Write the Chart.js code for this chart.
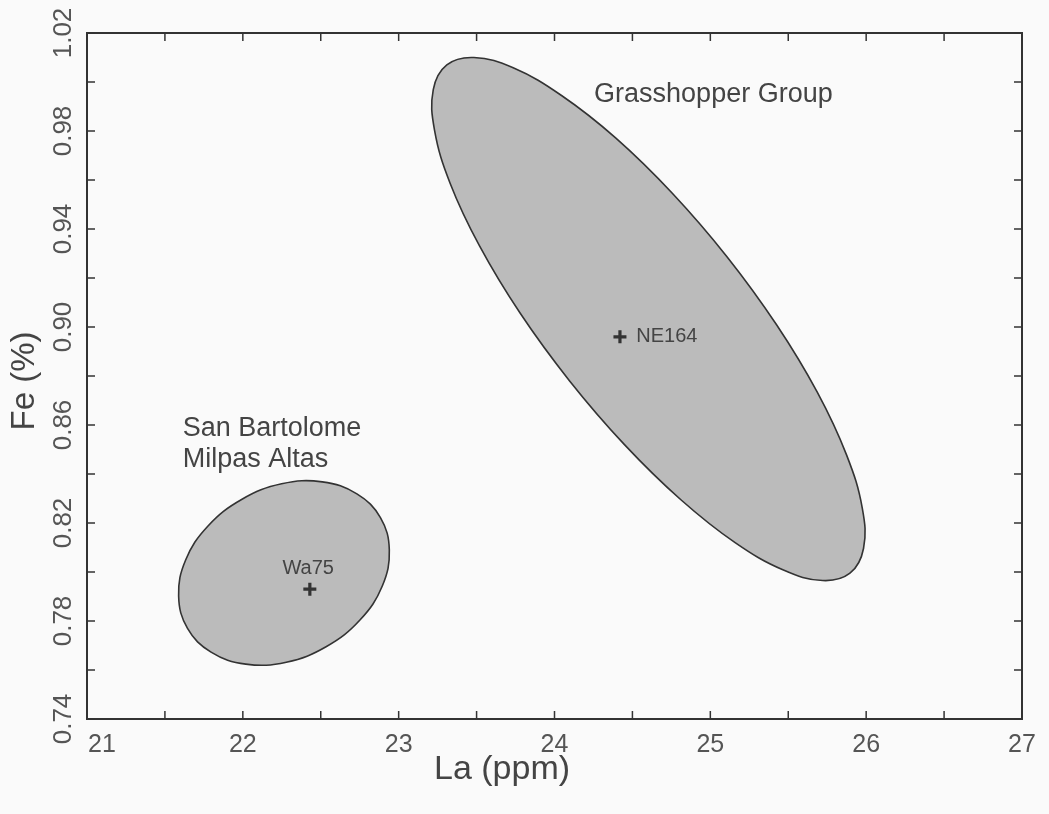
<!DOCTYPE html>
<html>
<head>
<meta charset="utf-8">
<script src="https://cdn.jsdelivr.net/npm/chart.js@4.4.0/dist/chart.umd.min.js"></script>
<style>
    html, body { margin: 0; padding: 0; background: #fafafa; }
</style>
</head>
<body>
<canvas id="chart" width="1049" height="814"></canvas>
<script>
// Outline of the Grasshopper Group ellipse (La ppm / Fe %).
const grassLa = [25.108, 25.425, 25.687, 25.874, 25.975, 25.983, 25.896, 25.721, 25.469, 25.159,
    24.811, 24.449, 24.097, 23.779, 23.518, 23.330, 23.230, 23.222, 23.309, 23.483,
    23.735, 24.045, 24.394, 24.756];
const grassFe = [0.9286, 0.9009, 0.8733, 0.8478, 0.8261, 0.8096, 0.7995, 0.7965, 0.8008, 0.8120,
    0.8295, 0.8520, 0.8780, 0.9057, 0.9332, 0.9587, 0.9804, 0.9969, 1.0070, 1.0100,
    1.0058, 0.9945, 0.9771, 0.9546];

// Outline of the San Bartolome Milpas Altas ellipse.
const sanLa = [22.883, 22.940, 22.895, 22.753, 22.537, 22.279, 22.019, 21.796, 21.645, 21.588,
    21.633, 21.775, 21.992, 22.249, 22.510, 22.732];
const sanFe = [0.8222, 0.8090, 0.7943, 0.7805, 0.7696, 0.7632, 0.7624, 0.7673, 0.7770, 0.7902,
    0.8049, 0.8187, 0.8296, 0.8360, 0.8368, 0.8319];

// The two reference samples.
const sampleNames = ["NE164", "Wa75"];
const sampleLa = [24.42, 22.43];
const sampleFe = [0.896, 0.793];

// Axis ticks.
const xTicks = [21, 22, 23, 24, 25, 26, 27];
const xMinor = [21.5, 22.5, 23.5, 24.5, 25.5, 26.5];
const yTicks = [0.74, 0.78, 0.82, 0.86, 0.90, 0.94, 0.98, 1.02];
const yMinor = [0.76, 0.80, 0.84, 0.88, 0.92, 0.96, 1.00];

// Group names and sample labels, anchored in data units.
const notes = [
    { text: "Grasshopper Group", la: 24.254, fe: 0.9947, size: 27, align: "left" },
    { text: "San Bartolome", la: 21.614, fe: 0.8584, size: 27, align: "left" },
    { text: "Milpas Altas", la: 21.614, fe: 0.8457, size: 27, align: "left" },
    { text: sampleNames[1], la: 22.419, fe: 0.8016, size: 20, align: "center" },
    { text: sampleNames[0], la: 24.525, fe: 0.8963, size: 20, align: "left" },
];

const FONT = '"Liberation Sans", Arial, sans-serif';

const toPoints = (xs, ys) => xs.map((v, i) => ({ x: v, y: ys[i] }));

const ellipseStyle = {
    closed: true,
    showLine: true,
    fill: "shape",
    backgroundColor: "#bbbbbb",
    borderColor: "#333",
    borderWidth: 1.6,
    tension: 0.4,
    pointRadius: 0,
    order: 1,
};

// Join the ellipse outlines into smooth closed loops, the way radar lines are.
const loopPlugin = {
    id: "loop",
    afterDatasetsUpdate(chart) {
        chart.data.datasets.forEach((ds, i) => {
            if (!ds.closed) return;
            const line = chart.getDatasetMeta(i).dataset;
            line._loop = true;
            line._fullLoop = true;
            line._pointsUpdated = false;
            delete line._segments;
            delete line._path;
        });
    },
};

const framePlugin = {
    id: "frame",
    beforeDraw(chart) {
        const ctx = chart.ctx;
        ctx.save();
        ctx.fillStyle = "#fafafa";
        ctx.fillRect(0, 0, chart.width, chart.height);
        ctx.restore();
    },
    afterDraw(chart) {
        const { ctx, chartArea: a, scales: { x, y } } = chart;
        ctx.save();

        // frame
        ctx.strokeStyle = "#333";
        ctx.lineWidth = 2;
        ctx.strokeRect(a.left, a.top, a.right - a.left, a.bottom - a.top);

        // inward ticks on all four sides
        ctx.lineWidth = 1.5;
        ctx.beginPath();
        xTicks.concat(xMinor).forEach((v) => {
            const px = x.getPixelForValue(v);
            ctx.moveTo(px, a.bottom);
            ctx.lineTo(px, a.bottom - 8);
            ctx.moveTo(px, a.top);
            ctx.lineTo(px, a.top + 8);
        });
        yTicks.concat(yMinor).forEach((v) => {
            const py = y.getPixelForValue(v);
            ctx.moveTo(a.left, py);
            ctx.lineTo(a.left + 8, py);
            ctx.moveTo(a.right, py);
            ctx.lineTo(a.right - 8, py);
        });
        ctx.stroke();

        // tick labels
        ctx.fillStyle = "#555";
        ctx.font = "25px " + FONT;
        ctx.textBaseline = "middle";
        xTicks.forEach((v, i) => {
            ctx.textAlign = i === 0 ? "left" : "center";
            ctx.fillText(String(v), x.getPixelForValue(v) + (i === 0 ? 1 : 0), a.bottom + 26);
        });
        ctx.font = "26px " + FONT;
        yTicks.forEach((v) => {
            ctx.save();
            ctx.translate(a.left - 23, y.getPixelForValue(v));
            ctx.rotate(-Math.PI / 2);
            ctx.textAlign = "center";
            ctx.fillText(v.toFixed(2), 0, 0);
            ctx.restore();
        });

        // axis titles
        ctx.fillStyle = "#444";
        ctx.font = "34px " + FONT;
        ctx.textAlign = "center";
        ctx.fillText("La (ppm)", 502, 770);
        ctx.font = "33px " + FONT;
        ctx.save();
        ctx.translate(25, 381);
        ctx.rotate(-Math.PI / 2);
        ctx.fillText("Fe (%)", 0, 0);
        ctx.restore();

        // group and sample labels
        notes.forEach((n) => {
            ctx.font = n.size + "px " + FONT;
            ctx.textAlign = n.align;
            ctx.fillText(n.text, x.getPixelForValue(n.la), y.getPixelForValue(n.fe));
        });

        ctx.restore();
    },
};

new Chart(document.getElementById("chart"), {
    type: "scatter",
    data: {
        datasets: [
            { label: "Grasshopper Group", data: toPoints(grassLa, grassFe), ...ellipseStyle },
            { label: "San Bartolome Milpas Altas", data: toPoints(sanLa, sanFe), ...ellipseStyle },
            {
                label: "Samples",
                data: toPoints(sampleLa, sampleFe),
                pointStyle: "cross",
                pointRadius: 6.5,
                borderWidth: 3.2,
                borderColor: "#333",
                order: 0,
            },
        ],
    },
    options: {
        responsive: false,
        animation: false,
        layout: { padding: { left: 87, top: 33, right: 27, bottom: 95 } },
        plugins: { legend: { display: false }, tooltip: { enabled: false } },
        scales: {
            x: {
                type: "linear",
                min: 21,
                max: 27,
                grid: { display: false },
                border: { display: false },
                ticks: { display: false },
                afterFit: (s) => { s.height = 0; },
            },
            y: {
                type: "linear",
                min: 0.74,
                max: 1.02,
                grid: { display: false },
                border: { display: false },
                ticks: { display: false },
                afterFit: (s) => { s.width = 0; },
            },
        },
    },
    plugins: [loopPlugin, framePlugin],
});
</script>
</body>
</html>
